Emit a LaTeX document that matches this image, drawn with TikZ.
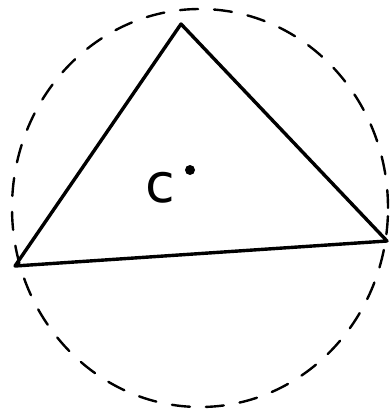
\documentclass[tikz,border=0pt]{standalone}
\usepackage{fontspec}
\setmainfont{DejaVu Sans}
\begin{document}
\begin{tikzpicture}[x=1pt,y=-1pt,
  tri/.style={line width=3.4pt,line join=round,line cap=round},
  circ/.style={line width=2.4pt,dash pattern=on 18pt off 16pt,line cap=round},
  lbl/.style={inner sep=0pt,font=\fontsize{54}{54}\selectfont}]
\useasboundingbox (0,0) rectangle (389,414);
\coordinate (T) at (181,24);
\coordinate (L) at (15,266);
\coordinate (R) at (387,241);
\coordinate (O) at (200,208);
\draw[circ] (O) ellipse [x radius=188pt, y radius=199pt];
\draw[tri] (T) -- (L) -- (R) -- cycle;
\node[lbl] (c) at (160,188) {c};
\node[circle,fill=black,inner sep=0pt,minimum size=10pt] (dot) at (190,170) {};
\end{tikzpicture}
\end{document}
